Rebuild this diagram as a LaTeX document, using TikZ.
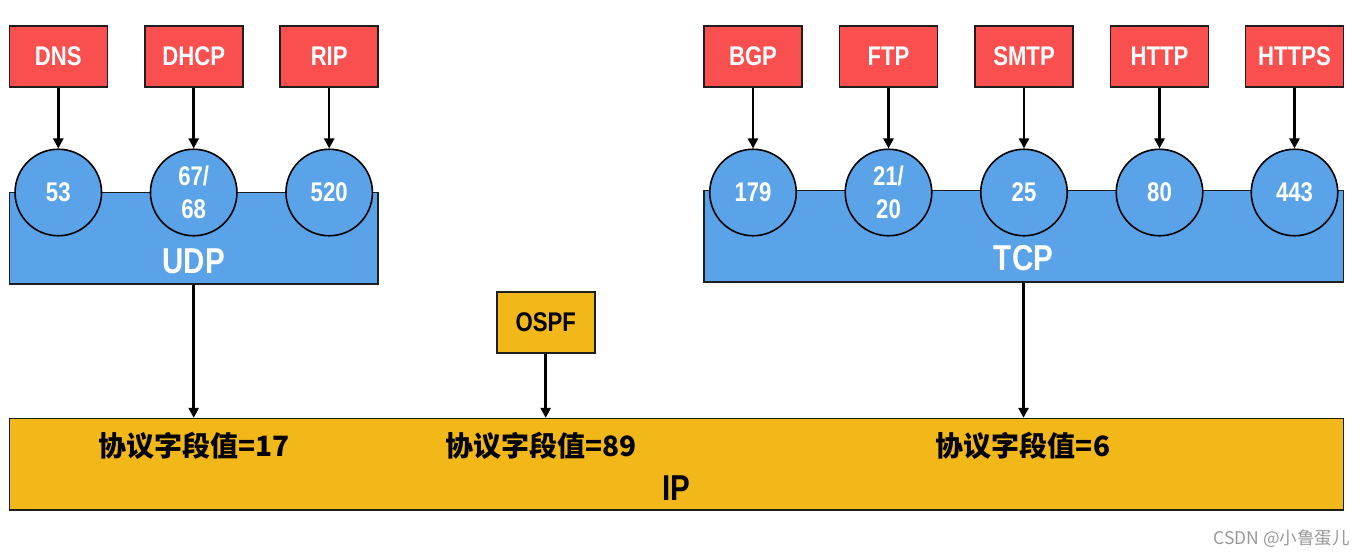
\documentclass[tikz,border=0pt]{standalone}
\usepackage{fontspec}
\newfontfamily\nar{Liberation Sans}[FakeStretch=0.82]
\newfontfamily\cjk{Noto Sans CJK SC}
\usetikzlibrary{arrows.meta}
\definecolor{pred}{HTML}{F94F4F}
\definecolor{pblue}{HTML}{5BA3E8}
\definecolor{pgold}{HTML}{F2B81A}
\definecolor{pline}{HTML}{1E1E1E}
\tikzset{
  protobox/.style={draw=pline, line width=1.6pt, fill=pred, minimum width=98pt, minimum height=61pt, inner sep=0pt,
    font=\nar\bfseries\fontsize{27}{31}\selectfont, text=white},
  portcirc/.style={draw=black, line width=1.6pt, fill=pblue, circle, minimum size=86.5pt, inner sep=0pt,
    font=\nar\bfseries\fontsize{27}{33}\selectfont, text=white, align=center},
  layerbox/.style={draw=pline, line width=1.6pt, inner sep=0pt},
  layerlbl/.style={font=\nar\bfseries\fontsize{36}{40}\selectfont, inner sep=0pt},
  fieldlbl/.style={font=\cjk\bfseries\fontsize{28}{32}\selectfont, inner sep=0pt},
  arr/.style={draw=black, line width=2.5pt, -{Triangle[length=10pt,width=10pt]}},
}
\begin{document}
\begin{tikzpicture}[x=1pt,y=-1pt]
\useasboundingbox (0,0) rectangle (1365,557);
% layer rectangles
\node[layerbox, fill=pblue, minimum width=368.7pt, minimum height=91.7pt] (udp) at (193.7,238.2) {};
\node[layerbox, fill=pblue, minimum width=639.6pt, minimum height=91.4pt] (tcp) at (1023.5,236) {};
\node[layerbox, fill=pgold, minimum width=1334pt, minimum height=91.3pt] (ip) at (676.3,464.3) {};
\node[layerlbl, text=white] (udpl) at (193.7,261) {UDP};
\node[layerlbl, text=white] (tcpl) at (1023.5,258.5) {TCP};
\node[layerlbl, text=black] (ipl) at (676,488) {IP};
% application protocols
\node[protobox] (dns)   at (58.3,56.5)  {DNS};
\node[protobox] (dhcp)  at (193.7,56.5) {DHCP};
\node[protobox] (rip)   at (329.2,56.5) {RIP};
\node[protobox] (bgp)   at (753,56.5)   {BGP};
\node[protobox] (ftp)   at (888.5,56.5) {FTP};
\node[protobox] (smtp)  at (1024,56.5)  {SMTP};
\node[protobox] (http)  at (1159.5,56.5){HTTP};
\node[protobox] (https) at (1294.5,56.5){HTTPS};
% ports
\node[portcirc] (p53)  at (58.3,192.5)  {53};
\node[portcirc] (p67)  at (193.7,192.5) {67/\\68};
\node[portcirc] (p520) at (329.2,192.5) {520};
\node[portcirc] (p179) at (753,192.5)   {179};
\node[portcirc] (p21)  at (888.5,192.5) {21/\\20};
\node[portcirc] (p25)  at (1024,192.5)  {25};
\node[portcirc] (p80)  at (1159.5,192.5){80};
\node[portcirc] (p443) at (1294.5,192.5){443};
% OSPF
\node[protobox, fill=pgold, text=black] (ospf) at (545.7,322.3) {OSPF};
% field values
\node[fieldlbl] (f17) at (193.7,446) {协议字段值=17};
\node[fieldlbl] (f89) at (541,446) {协议字段值=89};
\node[fieldlbl] (f6)  at (1023,446) {协议字段值=6};
% watermark
\node[font=\cjk\fontsize{17.5}{20}\selectfont, text=black!40, inner sep=0pt, anchor=east] (wm) at (1350,539) {CSDN @小鲁蛋儿};
% arrows
\draw[arr] (dns.south) -- (p53.north);
\draw[arr] (dhcp.south) -- (p67.north);
\draw[arr] (rip.south) -- (p520.north);
\draw[arr] (bgp.south) -- (p179.north);
\draw[arr] (ftp.south) -- (p21.north);
\draw[arr] (smtp.south) -- (p25.north);
\draw[arr] (http.south) -- (p80.north);
\draw[arr] (https.south) -- (p443.north);
\draw[arr] (udp.south) -- (udp.south |- ip.north);
\draw[arr] (tcp.south) -- (tcp.south |- ip.north);
\draw[arr] (ospf.south) -- (ospf.south |- ip.north);
\end{tikzpicture}
\end{document}
